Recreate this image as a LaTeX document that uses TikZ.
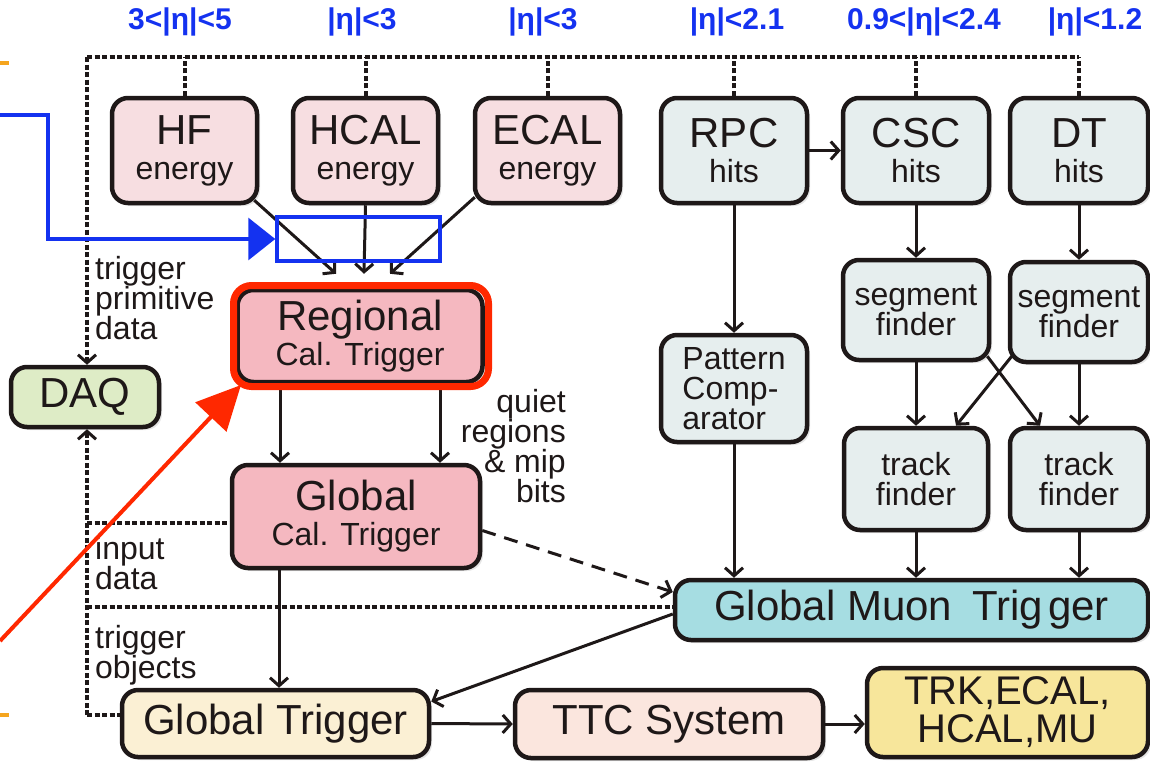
\documentclass[tikz,border=0pt]{standalone}
\usepackage{fontspec}
\setmainfont{Liberation Sans}
\usetikzlibrary{positioning, arrows.meta, shadows}
\definecolor{edgedark}{RGB}{30, 24, 24}
\definecolor{calpink}{RGB}{247, 222, 225}
\definecolor{trigpink}{RGB}{245, 184, 192}
\definecolor{muongrey}{RGB}{230, 238, 238}
\definecolor{daqgreen}{RGB}{222, 236, 198}
\definecolor{gmtcyan}{RGB}{166, 221, 226}
\definecolor{gtcream}{RGB}{251, 240, 212}
\definecolor{ttcpeach}{RGB}{251, 230, 222}
\definecolor{trkyellow}{RGB}{247, 230, 155}
\definecolor{etablue}{RGB}{20, 50, 240}
\definecolor{markred}{RGB}{255, 40, 0}
\definecolor{markorange}{RGB}{245, 165, 30}
\newcommand{\bigsz}{\fontsize{42}{35}\selectfont}
\newcommand{\smsz}{\fontsize{32}{30}\selectfont}
\tikzset{
  box/.style={
    draw=edgedark,
    line width=4.5pt,
    rounded corners=16pt,
    align=center,
    inner sep=0pt,
    text=edgedark,
    font=\bigsz,
    drop shadow={opacity=0.2, shadow xshift=3pt, shadow yshift=-3pt}
  },
  smallbox/.style={
    box,
    font=\smsz
  },
  eta/.style={
    text=etablue,
    font=\fontsize{30}{30}\selectfont\bfseries
  },
  note/.style={
    text=edgedark,
    font=\smsz,
    align=left,
    inner sep=0pt
  },
  arr/.style={
    -{Straight Barb[length=8pt, width=18pt]},
    line width=3pt,
    draw=edgedark
  },
  bus/.style={
    draw=edgedark,
    line width=4pt,
    dash pattern=on 5pt off 2.5pt
  },
  busarr/.style={
    -{Straight Barb[length=8pt, width=18pt, line width=3pt]}
  }
}

\begin{document}
\begin{tikzpicture}[x=1pt, y={(0pt,-1pt)}]
  \useasboundingbox (0, 0) rectangle (1150, 761);

  % coverage of each detector
  \node[eta] (etaHF) at (180, 22) {3<|η|<5};
  \node[eta] (etaHC) at (362, 22) {|η|<3};
  \node[eta] (etaEC) at (543, 22) {|η|<3};
  \node[eta] (etaRP) at (737, 22) {|η|<2.1};
  \node[eta] (etaCS) at (924, 22) {0.9<|η|<2.4};
  \node[eta] (etaDT) at (1095, 22) {|η|<1.2};

  % calorimeter side
  \node[box, fill=calpink, minimum width=145pt, minimum height=105pt] (HF) at (184.5, 150.5) {HF\\{\smsz energy}};
  \node[box, fill=calpink, minimum width=145pt, minimum height=105pt] (HCAL) at (365.5, 150.5) {HCAL\\{\smsz energy}};
  \node[box, fill=calpink, minimum width=145pt, minimum height=105pt] (ECAL) at (547.5, 150.5) {ECAL\\{\smsz energy}};
  \node[box, fill=trigpink, minimum width=245pt, minimum height=92pt] (RCT) at (360, 336) {Regional\\{\smsz Cal. Trigger}};
  \node[box, fill=trigpink, minimum width=248pt, minimum height=103pt] (GCT) at (356, 516.5) {Global\\{\smsz Cal. Trigger}};
  \node[box, fill=daqgreen, minimum width=148pt, minimum height=60pt] (DAQ) at (85, 397) {DAQ};

  % muon side
  \node[box, fill=muongrey, minimum width=146pt, minimum height=105pt] (RPC) at (734, 150.5) {RPC\\{\smsz hits}};
  \node[box, fill=muongrey, minimum width=146pt, minimum height=105pt] (CSC) at (916, 150.5) {CSC\\{\smsz hits}};
  \node[box, fill=muongrey, minimum width=138pt, minimum height=105pt] (DT) at (1079, 150.5) {DT\\{\smsz hits}};
  \node[smallbox, fill=muongrey, minimum width=146pt, minimum height=107pt, align=left] (PC) at (734, 388.5) {Pattern\\Comp-\\arator};
  \node[smallbox, fill=muongrey, minimum width=146pt, minimum height=100pt] (SF1) at (916, 310) {segment\\finder};
  \node[smallbox, fill=muongrey, minimum width=138pt, minimum height=100pt] (SF2) at (1079, 312) {segment\\finder};
  \node[smallbox, fill=muongrey, minimum width=144pt, minimum height=102pt] (TF1) at (916, 479) {track\\finder};
  \node[smallbox, fill=muongrey, minimum width=138pt, minimum height=102pt] (TF2) at (1079, 479) {track\\finder};
  \node[box, fill=gmtcyan, minimum width=473pt, minimum height=60pt] (GMT) at (911.5, 610) {Global Muon\hspace{20pt}Trig\hspace{5pt}ger};

  % bottom row
  \node[box, fill=gtcream, minimum width=307pt, minimum height=67pt] (GT) at (275.5, 723.5) {Global Trigger};
  \node[box, fill=ttcpeach, minimum width=308pt, minimum height=68pt] (TTC) at (669, 724) {TTC System};
  \node[box, fill=trkyellow, minimum width=281pt, minimum height=89pt, font=\fontsize{40}{38}\selectfont] (TRK) at (1007.5, 712.5) {TRK,ECAL,\\HCAL,MU};

  % readout bus to DAQ
  \coordinate (busL) at (87, 57);
  \coordinate (busR) at (1079, 57);
  \coordinate (busB) at (87, 715);
  \coordinate (inL) at (87, 523);
  \coordinate (objL) at (87, 607);
  \draw[bus] (busL) -- (busR);
  \foreach \n in {HF, HCAL, ECAL, RPC, CSC, DT}
    \draw[bus] (\n.north) -- (\n.north |- busL);
  \draw[bus, busarr] (busL) -- (busL |- DAQ.north);
  \draw[bus, busarr] (busB) -- (busB |- DAQ.south);
  \draw[bus] (busB) -- (busB -| GT.west);
  \draw[bus] (inL) -- (inL -| GCT.west);
  \draw[bus] (objL) -- (objL -| GMT.west);

  \node[note, anchor=west] (tpd) at (95, 298) {trigger\\primitive\\data};
  \node[note, anchor=east, align=right] (qrb) at (566, 446) {quiet\\regions\\\& mip\\bits};
  \node[note, anchor=west] (ind) at (95, 563) {input\\data};
  \node[note, anchor=west] (tob) at (95, 655) {trigger\\objects};

  % calorimeter trigger path
  \draw[arr] ([xshift=-5pt, yshift=5pt]HF.south east) -- ([xshift=-24pt, yshift=14pt]RCT.north);
  \draw[arr] (HCAL.south) -- ([xshift=4pt, yshift=14pt]RCT.north);
  \draw[arr] ([xshift=2pt, yshift=8pt]ECAL.south west) -- ([xshift=30pt, yshift=14pt]RCT.north);
  \draw[arr] ([xshift=-80pt]RCT.south) -- ([xshift=-80pt]RCT.south |- GCT.north);
  \draw[arr] ([xshift=80pt]RCT.south) -- ([xshift=80pt]RCT.south |- GCT.north);
  \draw[arr] ([xshift=-77pt]GCT.south) -- ([xshift=-77pt]GCT.south |- GT.north);
  \draw[arr, dash pattern=on 14pt off 9pt] ([yshift=-14pt]GCT.east) -- ([yshift=18pt]GMT.west);

  % muon trigger path
  \draw[arr] (RPC) -- (CSC);
  \draw[arr] (RPC.south) -- (RPC.south |- PC.north);
  \draw[arr] (PC.south) -- (PC.south |- GMT.north);
  \draw[arr] (CSC) -- (SF1);
  \draw[arr] (DT) -- (SF2);
  \draw[arr] (SF1) -- (TF1);
  \draw[arr] (SF2) -- (TF2);
  \draw[arr] ([xshift=-4pt, yshift=6pt]SF1.south east) -- ([xshift=-39pt]TF2.north);
  \draw[arr] ([xshift=4pt, yshift=8pt]SF2.south west) -- ([xshift=40pt]TF1.north);
  \draw[arr] (TF1) -- (TF1 |- GMT.north);
  \draw[arr] (TF2) -- (TF2 |- GMT.north);

  % global trigger and distribution
  \draw[arr] ([yshift=-4pt]GMT.west) -- ([yshift=22pt]GT.east);
  \draw[arr] (GT.east) -- (TTC.west);
  \draw[arr] (TTC.east) -- (TTC.east -| TRK.west);

  % highlights
  \node[draw=etablue, line width=3.5pt, minimum width=163pt, minimum height=44pt, inner sep=0pt] (hl) at (358.5, 239) {};
  \coordinate (bstart) at (0, 115);
  \coordinate (bturn) at (48, 115);
  \draw[etablue, line width=3.5pt, -{Triangle[length=27pt, width=42pt]}] (bstart) -- (bturn) |- (hl.west);
  \node[draw=markred, line width=7pt, rounded corners=18pt, minimum width=255pt, minimum height=101pt, inner sep=0pt] (rframe) at (361, 336) {};
  \coordinate (rstart) at (0, 641);
  \draw[markred, line width=4pt, -{Triangle[length=44pt, width=42pt]}] (rstart) -- ([xshift=11pt, yshift=5pt]rframe.south west);
  \draw[markorange, line width=3.5pt] (0, 63) -- (9, 63);
  \draw[markorange, line width=3.5pt] (0, 715) -- (9, 715);
\end{tikzpicture}
\end{document}
